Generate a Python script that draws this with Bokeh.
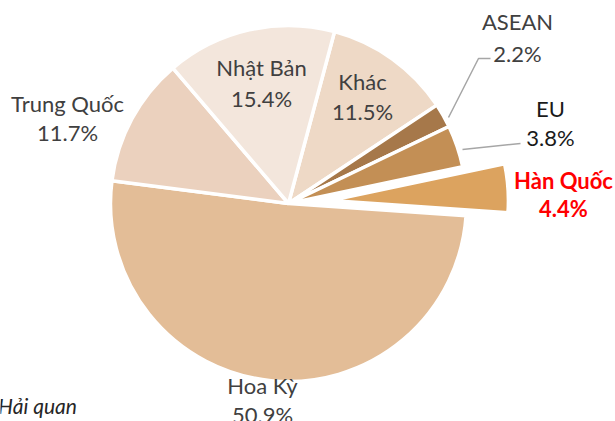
import numpy as np
from bokeh.plotting import figure
from bokeh.models import Range1d, ColumnDataSource
from bokeh.core.properties import value
from bokeh.embed import file_html
from bokeh.resources import INLINE

# Data (clockwise order starting after "Nhật Bản")
categories = ["Khác", "ASEAN", "EU", "Hàn Quốc", "Hoa Kỳ", "Trung Quốc", "Nhật Bản"]
shares = [11.5, 2.2, 3.8, 4.4, 50.9, 11.7, 15.4]
pct_labels = ["11.5%", "2.2%", "3.8%", "4.4%", "50.9%", "11.7%", "15.4%"]
colors = ["#EED9C6", "#A6784A", "#C38F55", "#DCA35F", "#E3BD97", "#EBD1BE", "#F3E6DC"]
explode = [0, 0, 0, 42, 0, 0, 0]
source_note = "Nguồn: Tổng cục Hải quan"

W, H = 615, 421


def Y(y):
    return H - y


p = figure(width=W, height=H, output_backend="svg", toolbar_location=None,
           x_range=Range1d(0, W), y_range=Range1d(0, H),
           min_border=0)
p.axis.visible = False
p.grid.visible = False
p.outline_line_color = None
p.background_fill_color = "white"
p.border_fill_color = "white"

cx, cy, R = 288, Y(203), 178
start_cw = 15.0
vals = np.array(shares, dtype=float)
fr = vals / vals.sum() * 360.0
c1 = start_cw + np.cumsum(fr)
c0 = c1 - fr
mid = (c0 + c1) / 2
# convert clockwise-from-top to math angles
a_start = np.radians(90 - c1)
a_end = np.radians(90 - c0)
a_mid = np.radians(90 - mid)
ex = np.array(explode, dtype=float)
xs = cx + ex * np.cos(a_mid)
ys = cy + ex * np.sin(a_mid)

src = ColumnDataSource(dict(x=xs, y=ys, s=a_start, e=a_end, c=colors))
p.wedge(x="x", y="y", radius=R, start_angle="s", end_angle="e",
        fill_color="c", line_color="white", line_width=3.5, source=src)

# leader lines
p.line(x=[448, 478, 490], y=[Y(117), Y(58), Y(58)], line_color="#A6A6A6", line_width=1.5)
p.line(x=[462, 520], y=[Y(149), Y(143)], line_color="#A6A6A6", line_width=1.5)

font = value("Lato")
dy = 7  # baseline correction
# label positions (name baseline, pct baseline) per category
lab_x = {"Khác": 362, "ASEAN": 517, "EU": 550, "Hàn Quốc": 563,
         "Hoa Kỳ": 262, "Trung Quốc": 67, "Nhật Bản": 261}
lab_y = {"Khác": (88, 118), "ASEAN": (28, 60), "EU": (115, 144), "Hàn Quốc": (187, 215),
         "Hoa Kỳ": (392, 421), "Trung Quốc": (110, 139), "Nhật Bản": (74, 105)}
lab_col = {"EU": "#1A1A1A", "Hàn Quốc": "#FF0000"}

for cat, pct in zip(categories, pct_labels):
    col = lab_col.get(cat, "#404040")
    style = "bold" if cat == "Hàn Quốc" else "normal"
    y1, y2 = lab_y[cat]
    p.text(x=[lab_x[cat], lab_x[cat]], y=[Y(y1 - dy), Y(y2 - dy)], text=[cat, pct],
           text_font=font, text_font_size="22px", text_color=col,
           text_font_style=style, text_align="center", text_baseline="alphabetic")

p.text(x=[77], y=[Y(412 - dy)], text=[source_note], text_font=font, text_font_size="21px",
       text_color="#262626", text_font_style="italic", text_align="right",
       text_baseline="alphabetic")

open("out.html", "w").write(file_html(p, INLINE))
